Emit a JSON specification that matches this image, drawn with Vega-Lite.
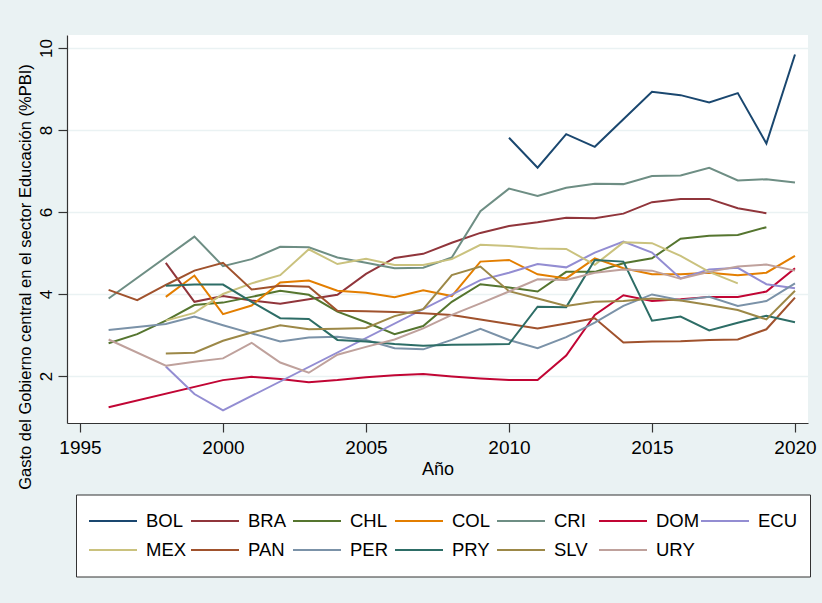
{
  "$schema": "https://vega.github.io/schema/vega-lite/v6.json",
  "width": 741,
  "height": 388,
  "autosize": {"type": "none"},
  "padding": {"left": 67, "top": 35, "right": 14, "bottom": 180},
  "background": "#eaf2f3",
  "config": {
    "view": {"fill": "white", "stroke": null},
    "font": "Liberation Sans"
  },
  "data": {
    "values": [
      {"c":"BOL","a":2010,"v":7.81},{"c":"BOL","a":2011,"v":7.08},{"c":"BOL","a":2012,"v":7.90},{"c":"BOL","a":2013,"v":7.59},{"c":"BOL","a":2014,"v":8.26},{"c":"BOL","a":2015,"v":8.93},{"c":"BOL","a":2016,"v":8.85},{"c":"BOL","a":2017,"v":8.67},{"c":"BOL","a":2018,"v":8.90},{"c":"BOL","a":2019,"v":7.67},{"c":"BOL","a":2020,"v":9.84},
      {"c":"BRA","a":1998,"v":4.76},{"c":"BRA","a":1999,"v":3.81},{"c":"BRA","a":2000,"v":3.95},{"c":"BRA","a":2001,"v":3.84},{"c":"BRA","a":2002,"v":3.76},{"c":"BRA","a":2003,"v":3.87},{"c":"BRA","a":2004,"v":3.98},{"c":"BRA","a":2005,"v":4.49},{"c":"BRA","a":2006,"v":4.88},{"c":"BRA","a":2007,"v":4.98},{"c":"BRA","a":2008,"v":5.25},{"c":"BRA","a":2009,"v":5.49},{"c":"BRA","a":2010,"v":5.66},{"c":"BRA","a":2011,"v":5.75},{"c":"BRA","a":2012,"v":5.86},{"c":"BRA","a":2013,"v":5.85},{"c":"BRA","a":2014,"v":5.96},{"c":"BRA","a":2015,"v":6.24},{"c":"BRA","a":2016,"v":6.32},{"c":"BRA","a":2017,"v":6.32},{"c":"BRA","a":2018,"v":6.09},{"c":"BRA","a":2019,"v":5.97},
      {"c":"CHL","a":1996,"v":2.80},{"c":"CHL","a":1997,"v":3.02},{"c":"CHL","a":1998,"v":3.35},{"c":"CHL","a":1999,"v":3.73},{"c":"CHL","a":2000,"v":3.79},{"c":"CHL","a":2001,"v":3.93},{"c":"CHL","a":2002,"v":4.08},{"c":"CHL","a":2003,"v":3.98},{"c":"CHL","a":2004,"v":3.57},{"c":"CHL","a":2005,"v":3.31},{"c":"CHL","a":2006,"v":3.02},{"c":"CHL","a":2007,"v":3.22},{"c":"CHL","a":2008,"v":3.81},{"c":"CHL","a":2009,"v":4.24},{"c":"CHL","a":2010,"v":4.16},{"c":"CHL","a":2011,"v":4.06},{"c":"CHL","a":2012,"v":4.54},{"c":"CHL","a":2013,"v":4.54},{"c":"CHL","a":2014,"v":4.75},{"c":"CHL","a":2015,"v":4.87},{"c":"CHL","a":2016,"v":5.35},{"c":"CHL","a":2017,"v":5.42},{"c":"CHL","a":2018,"v":5.44},{"c":"CHL","a":2019,"v":5.63},
      {"c":"COL","a":1998,"v":3.93},{"c":"COL","a":1999,"v":4.45},{"c":"COL","a":2000,"v":3.51},{"c":"COL","a":2001,"v":3.72},{"c":"COL","a":2002,"v":4.28},{"c":"COL","a":2003,"v":4.33},{"c":"COL","a":2004,"v":4.08},{"c":"COL","a":2005,"v":4.03},{"c":"COL","a":2006,"v":3.92},{"c":"COL","a":2007,"v":4.09},{"c":"COL","a":2008,"v":3.95},{"c":"COL","a":2009,"v":4.79},{"c":"COL","a":2010,"v":4.83},{"c":"COL","a":2011,"v":4.48},{"c":"COL","a":2012,"v":4.38},{"c":"COL","a":2013,"v":4.87},{"c":"COL","a":2014,"v":4.63},{"c":"COL","a":2015,"v":4.48},{"c":"COL","a":2016,"v":4.48},{"c":"COL","a":2017,"v":4.52},{"c":"COL","a":2018,"v":4.46},{"c":"COL","a":2019,"v":4.52},{"c":"COL","a":2020,"v":4.93},
      {"c":"CRI","a":1996,"v":3.89},{"c":"CRI","a":1999,"v":5.40},{"c":"CRI","a":2000,"v":4.68},{"c":"CRI","a":2001,"v":4.85},{"c":"CRI","a":2002,"v":5.15},{"c":"CRI","a":2003,"v":5.14},{"c":"CRI","a":2004,"v":4.89},{"c":"CRI","a":2005,"v":4.76},{"c":"CRI","a":2006,"v":4.63},{"c":"CRI","a":2007,"v":4.64},{"c":"CRI","a":2008,"v":4.89},{"c":"CRI","a":2009,"v":6.02},{"c":"CRI","a":2010,"v":6.57},{"c":"CRI","a":2011,"v":6.39},{"c":"CRI","a":2012,"v":6.59},{"c":"CRI","a":2013,"v":6.69},{"c":"CRI","a":2014,"v":6.68},{"c":"CRI","a":2015,"v":6.88},{"c":"CRI","a":2016,"v":6.89},{"c":"CRI","a":2017,"v":7.08},{"c":"CRI","a":2018,"v":6.77},{"c":"CRI","a":2019,"v":6.80},{"c":"CRI","a":2020,"v":6.72},
      {"c":"DOM","a":1996,"v":1.24},{"c":"DOM","a":2000,"v":1.90},{"c":"DOM","a":2001,"v":1.98},{"c":"DOM","a":2002,"v":1.93},{"c":"DOM","a":2003,"v":1.85},{"c":"DOM","a":2004,"v":1.90},{"c":"DOM","a":2005,"v":1.97},{"c":"DOM","a":2006,"v":2.02},{"c":"DOM","a":2007,"v":2.05},{"c":"DOM","a":2008,"v":1.99},{"c":"DOM","a":2009,"v":1.94},{"c":"DOM","a":2010,"v":1.90},{"c":"DOM","a":2011,"v":1.90},{"c":"DOM","a":2012,"v":2.50},{"c":"DOM","a":2013,"v":3.49},{"c":"DOM","a":2014,"v":3.97},{"c":"DOM","a":2015,"v":3.83},{"c":"DOM","a":2016,"v":3.87},{"c":"DOM","a":2017,"v":3.93},{"c":"DOM","a":2018,"v":3.93},{"c":"DOM","a":2019,"v":4.06},{"c":"DOM","a":2020,"v":4.63},
      {"c":"ECU","a":1998,"v":2.23},{"c":"ECU","a":1999,"v":1.56},{"c":"ECU","a":2000,"v":1.16},{"c":"ECU","a":2009,"v":4.34},{"c":"ECU","a":2010,"v":4.52},{"c":"ECU","a":2011,"v":4.73},{"c":"ECU","a":2012,"v":4.65},{"c":"ECU","a":2013,"v":5.01},{"c":"ECU","a":2014,"v":5.28},{"c":"ECU","a":2015,"v":5.01},{"c":"ECU","a":2016,"v":4.38},{"c":"ECU","a":2017,"v":4.60},{"c":"ECU","a":2018,"v":4.64},{"c":"ECU","a":2019,"v":4.24},{"c":"ECU","a":2020,"v":4.14},
      {"c":"MEX","a":1998,"v":3.35},{"c":"MEX","a":1999,"v":3.54},{"c":"MEX","a":2000,"v":4.00},{"c":"MEX","a":2001,"v":4.26},{"c":"MEX","a":2002,"v":4.46},{"c":"MEX","a":2003,"v":5.09},{"c":"MEX","a":2004,"v":4.73},{"c":"MEX","a":2005,"v":4.86},{"c":"MEX","a":2006,"v":4.71},{"c":"MEX","a":2007,"v":4.71},{"c":"MEX","a":2008,"v":4.85},{"c":"MEX","a":2009,"v":5.20},{"c":"MEX","a":2010,"v":5.17},{"c":"MEX","a":2011,"v":5.11},{"c":"MEX","a":2012,"v":5.10},{"c":"MEX","a":2013,"v":4.71},{"c":"MEX","a":2014,"v":5.26},{"c":"MEX","a":2015,"v":5.24},{"c":"MEX","a":2016,"v":4.93},{"c":"MEX","a":2017,"v":4.54},{"c":"MEX","a":2018,"v":4.26},
      {"c":"PAN","a":1996,"v":4.10},{"c":"PAN","a":1997,"v":3.85},{"c":"PAN","a":1998,"v":4.22},{"c":"PAN","a":1999,"v":4.57},{"c":"PAN","a":2000,"v":4.76},{"c":"PAN","a":2001,"v":4.11},{"c":"PAN","a":2002,"v":4.20},{"c":"PAN","a":2003,"v":4.18},{"c":"PAN","a":2004,"v":3.59},{"c":"PAN","a":2005,"v":3.58},{"c":"PAN","a":2006,"v":3.56},{"c":"PAN","a":2007,"v":3.53},{"c":"PAN","a":2008,"v":3.49},{"c":"PAN","a":2009,"v":3.38},{"c":"PAN","a":2010,"v":3.27},{"c":"PAN","a":2011,"v":3.16},{"c":"PAN","a":2012,"v":3.28},{"c":"PAN","a":2013,"v":3.41},{"c":"PAN","a":2014,"v":2.82},{"c":"PAN","a":2015,"v":2.84},{"c":"PAN","a":2016,"v":2.85},{"c":"PAN","a":2017,"v":2.88},{"c":"PAN","a":2018,"v":2.89},{"c":"PAN","a":2019,"v":3.14},{"c":"PAN","a":2020,"v":3.91},
      {"c":"PER","a":1996,"v":3.12},{"c":"PER","a":1998,"v":3.27},{"c":"PER","a":1999,"v":3.45},{"c":"PER","a":2000,"v":3.24},{"c":"PER","a":2001,"v":3.04},{"c":"PER","a":2002,"v":2.84},{"c":"PER","a":2003,"v":2.94},{"c":"PER","a":2004,"v":2.96},{"c":"PER","a":2005,"v":2.88},{"c":"PER","a":2006,"v":2.68},{"c":"PER","a":2007,"v":2.65},{"c":"PER","a":2008,"v":2.88},{"c":"PER","a":2009,"v":3.15},{"c":"PER","a":2010,"v":2.88},{"c":"PER","a":2011,"v":2.68},{"c":"PER","a":2012,"v":2.95},{"c":"PER","a":2013,"v":3.30},{"c":"PER","a":2014,"v":3.71},{"c":"PER","a":2015,"v":3.99},{"c":"PER","a":2016,"v":3.85},{"c":"PER","a":2017,"v":3.93},{"c":"PER","a":2018,"v":3.71},{"c":"PER","a":2019,"v":3.83},{"c":"PER","a":2020,"v":4.26},
      {"c":"PRY","a":1998,"v":4.20},{"c":"PRY","a":1999,"v":4.23},{"c":"PRY","a":2000,"v":4.23},{"c":"PRY","a":2001,"v":3.81},{"c":"PRY","a":2002,"v":3.41},{"c":"PRY","a":2003,"v":3.39},{"c":"PRY","a":2004,"v":2.88},{"c":"PRY","a":2005,"v":2.84},{"c":"PRY","a":2006,"v":2.78},{"c":"PRY","a":2007,"v":2.74},{"c":"PRY","a":2008,"v":2.76},{"c":"PRY","a":2009,"v":2.77},{"c":"PRY","a":2010,"v":2.78},{"c":"PRY","a":2011,"v":3.69},{"c":"PRY","a":2012,"v":3.68},{"c":"PRY","a":2013,"v":4.83},{"c":"PRY","a":2014,"v":4.79},{"c":"PRY","a":2015,"v":3.35},{"c":"PRY","a":2016,"v":3.45},{"c":"PRY","a":2017,"v":3.11},{"c":"PRY","a":2018,"v":3.30},{"c":"PRY","a":2019,"v":3.47},{"c":"PRY","a":2020,"v":3.31},
      {"c":"SLV","a":1998,"v":2.55},{"c":"SLV","a":1999,"v":2.57},{"c":"SLV","a":2000,"v":2.86},{"c":"SLV","a":2001,"v":3.06},{"c":"SLV","a":2002,"v":3.24},{"c":"SLV","a":2003,"v":3.14},{"c":"SLV","a":2004,"v":3.15},{"c":"SLV","a":2005,"v":3.17},{"c":"SLV","a":2006,"v":3.46},{"c":"SLV","a":2007,"v":3.63},{"c":"SLV","a":2008,"v":4.46},{"c":"SLV","a":2009,"v":4.67},{"c":"SLV","a":2010,"v":4.07},{"c":"SLV","a":2011,"v":3.89},{"c":"SLV","a":2012,"v":3.71},{"c":"SLV","a":2013,"v":3.81},{"c":"SLV","a":2014,"v":3.83},{"c":"SLV","a":2015,"v":3.89},{"c":"SLV","a":2016,"v":3.84},{"c":"SLV","a":2017,"v":3.73},{"c":"SLV","a":2018,"v":3.61},{"c":"SLV","a":2019,"v":3.38},{"c":"SLV","a":2020,"v":4.08},
      {"c":"URY","a":1996,"v":2.89},{"c":"URY","a":1998,"v":2.25},{"c":"URY","a":1999,"v":2.35},{"c":"URY","a":2000,"v":2.43},{"c":"URY","a":2001,"v":2.81},{"c":"URY","a":2002,"v":2.33},{"c":"URY","a":2003,"v":2.08},{"c":"URY","a":2004,"v":2.52},{"c":"URY","a":2005,"v":2.71},{"c":"URY","a":2006,"v":2.89},{"c":"URY","a":2007,"v":3.16},{"c":"URY","a":2008,"v":3.49},{"c":"URY","a":2009,"v":3.77},{"c":"URY","a":2010,"v":4.06},{"c":"URY","a":2011,"v":4.36},{"c":"URY","a":2012,"v":4.34},{"c":"URY","a":2013,"v":4.52},{"c":"URY","a":2014,"v":4.60},{"c":"URY","a":2015,"v":4.57},{"c":"URY","a":2016,"v":4.37},{"c":"URY","a":2017,"v":4.54},{"c":"URY","a":2018,"v":4.67},{"c":"URY","a":2019,"v":4.72},{"c":"URY","a":2020,"v":4.57}
    ]
  },
  "mark": {"type": "line", "strokeWidth": 2},
  "encoding": {
    "x": {
      "field": "a", "type": "quantitative",
      "scale": {"domain": [1994.545, 2020.455], "nice": false, "zero": false},
      "axis": {
        "values": [1995, 2000, 2005, 2010, 2015, 2020], "format": "d",
        "title": "Año", "grid": false,
        "tickSize": 9, "tickColor": "#333", "domainColor": "#333", "domainWidth": 1.2, "tickWidth": 1.2,
        "labelFontSize": 19, "labelPadding": 6, "labelColor": "#000", "labelBaseline": "top",
        "titleFontSize": 18, "titleFontWeight": "normal", "titleColor": "#000",
        "titleX": 370.5, "titleY": 51, "titleAlign": "center", "titleBaseline": "alphabetic"
      }
    },
    "y": {
      "field": "v", "type": "quantitative",
      "scale": {"domain": [0.854, 10.317], "nice": false, "zero": false},
      "axis": {
        "values": [2, 4, 6, 8, 10],
        "title": "Gasto del Gobierno central en el sector Educación (%PBI)",
        "grid": true, "gridColor": "#eaf2f3", "gridWidth": 1.5,
        "tickSize": 9, "tickColor": "#333", "domainColor": "#333", "domainWidth": 1.2, "tickWidth": 1.2,
        "labelAngle": -90, "labelAlign": "center", "labelBaseline": "alphabetic",
        "labelFontSize": 17, "labelPadding": 7, "labelColor": "#000",
        "titleFontSize": 16.5, "titleFontWeight": "normal", "titleColor": "#000",
        "titleAngle": -90, "titleX": -37, "titleY": 241.5, "titleAlign": "center", "titleBaseline": "alphabetic"
      }
    },
    "color": {
      "field": "c", "type": "nominal",
      "scale": {"range": ["#1a476f", "#90353b", "#55752f", "#e37e00", "#6e8e84", "#c10534", "#938dd2", "#cac27e", "#a0522d", "#7b92a8", "#2d6d66", "#9c8847", "#bfa19c"]},
      "legend": {
        "title": null, "orient": "none", "legendX": 9, "legendY": 459.5,
        "columns": 7, "direction": "horizontal", "gridAlign": "all",
        "symbolType": "stroke", "symbolSize": 2304, "symbolStrokeWidth": 2,
        "labelFontSize": 18.5, "labelOffset": 8, "labelColor": "#000", "labelLimit": 200,
        "columnPadding": -3, "rowPadding": -1, "clipHeight": 29,
        "padding": 12, "fillColor": "white", "strokeColor": "#333"
      }
    }
  }
}
